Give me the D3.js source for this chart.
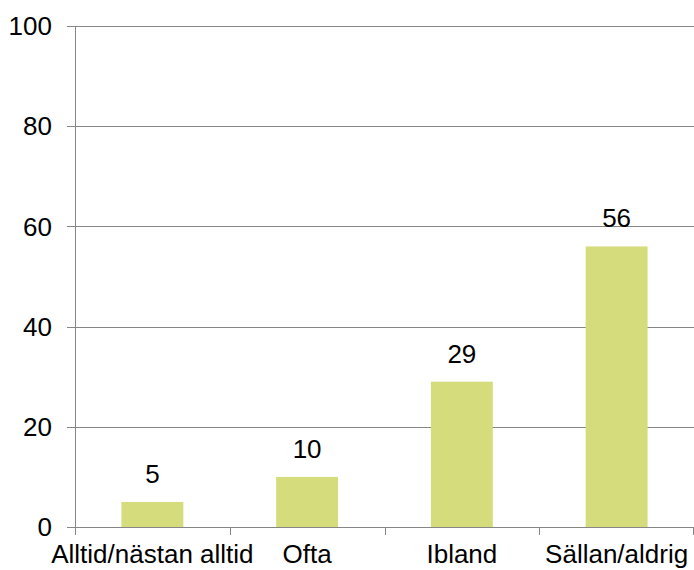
<!DOCTYPE html>
<html lang="sv">
<head>
<meta charset="UTF-8">
<title>Bar chart</title>
<script src="https://d3js.org/d3.v7.min.js"></script>
<style>
  body { margin: 0; background: #fff; }
  text { font-family: "Liberation Sans", Arial, sans-serif; fill: #000; }
</style>
</head>
<body>
<div id="chart"></div>
<script>
// data
const categories = ["Alltid/nästan alltid", "Ofta", "Ibland", "Sällan/aldrig"];
const values = [5, 10, 29, 56];
const yTicks = [0, 20, 40, 60, 80, 100];

const width = 694, height = 570;
const margin = { top: 26, right: 0, bottom: 43, left: 75 };
const fontSize = "26px";

const svg = d3.select("#chart").append("svg")
  .attr("width", width)
  .attr("height", height);

const x = d3.scaleBand()
  .domain(categories)
  .range([margin.left, width - margin.right])
  .paddingInner(0.6)
  .paddingOuter(0.3);

const y = d3.scaleLinear()
  .domain([0, 100])
  .range([height - margin.bottom, margin.top]);

// gridlines
svg.append("g")
  .selectAll("line")
  .data(yTicks)
  .join("line")
  .attr("x1", margin.left - 8)
  .attr("x2", width - margin.right)
  .attr("y1", d => Math.round(y(d)) + 0.5)
  .attr("y2", d => Math.round(y(d)) + 0.5)
  .attr("stroke", "#868686")
  .attr("stroke-width", 1);

// y tick labels
svg.append("g")
  .selectAll("text")
  .data(yTicks)
  .join("text")
  .attr("x", 52)
  .attr("y", d => y(d))
  .attr("dy", "0.35em")
  .attr("text-anchor", "end")
  .style("font-size", fontSize)
  .text(d => d);

// bars
svg.append("g")
  .selectAll("rect")
  .data(values)
  .join("rect")
  .attr("x", (d, i) => x(categories[i]))
  .attr("width", x.bandwidth())
  .attr("y", d => y(d))
  .attr("height", d => y(0) - y(d))
  .attr("fill", "#d4dc7c");

// y axis line
svg.append("line")
  .attr("x1", margin.left + 0.5)
  .attr("x2", margin.left + 0.5)
  .attr("y1", y(100))
  .attr("y2", y(0) + 8)
  .attr("stroke", "#868686");

// category boundary ticks
const edges = d3.range(categories.length + 1).map(i => margin.left + i * (width - margin.left - margin.right) / categories.length);
svg.append("g")
  .selectAll("line")
  .data(edges)
  .join("line")
  .attr("x1", d => Math.min(Math.round(d), width - 1) + 0.5)
  .attr("x2", d => Math.min(Math.round(d), width - 1) + 0.5)
  .attr("y1", y(0))
  .attr("y2", y(0) + 8)
  .attr("stroke", "#868686");

// value labels
svg.append("g")
  .selectAll("text")
  .data(values)
  .join("text")
  .attr("x", (d, i) => x(categories[i]) + x.bandwidth() / 2)
  .attr("y", d => y(d) - 19)
  .attr("text-anchor", "middle")
  .style("font-size", fontSize)
  .text(d => d);

// category labels
svg.append("g")
  .selectAll("text")
  .data(categories)
  .join("text")
  .attr("x", d => x(d) + x.bandwidth() / 2)
  .attr("y", 563)
  .attr("text-anchor", "middle")
  .style("font-size", fontSize)
  .text(d => d);
</script>
</body>
</html>
